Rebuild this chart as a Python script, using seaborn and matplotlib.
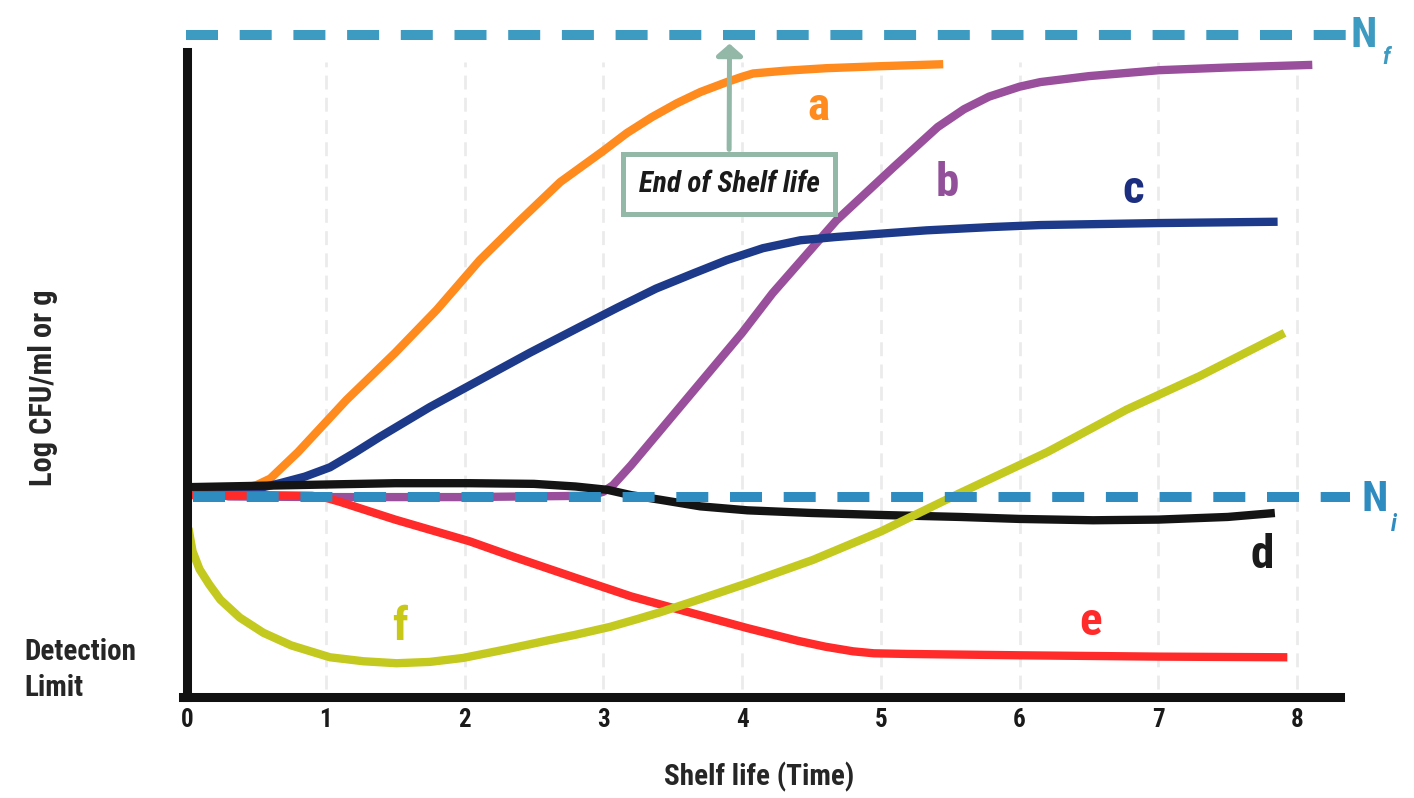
import numpy as np
import pandas as pd
import seaborn as sns
import matplotlib
matplotlib.use('agg')
import matplotlib.pyplot as plt
from matplotlib import font_manager

# values (x = shelf life time, y = log CFU, arbitrary units)
time_ticks = [0, 1, 2, 3, 4, 5, 6, 7, 8]
n_i = 3.02
n_f = 10.0

a_t = [0, 0.4, 0.5, 0.6, 0.8, 1.15, 1.5, 1.8, 2.11, 2.4, 2.69, 3.0, 3.17, 3.35, 3.53, 3.7, 3.89, 4.0, 4.08, 4.3, 4.61, 5.0, 5.45]
a_y = [3.12, 3.15, 3.2, 3.3, 3.7, 4.49, 5.2, 5.85, 6.6, 7.2, 7.78, 8.25, 8.52, 8.76, 8.97, 9.14, 9.29, 9.37, 9.42, 9.46, 9.5, 9.53, 9.56]

b_t = [0, 0.3, 1, 2, 2.9, 3.0, 3.07, 3.2, 3.5, 4.0, 4.22, 4.68, 5.09, 5.41, 5.6, 5.78, 6.0, 6.15, 6.5, 7.01, 7.5, 8.11]
b_y = [3.15, 3.03, 3.02, 3.02, 3.04, 3.1, 3.2, 3.5, 4.25, 5.5, 6.1, 7.2, 8.0, 8.61, 8.88, 9.07, 9.22, 9.29, 9.38, 9.47, 9.51, 9.55]

c_t = [0, 0.4, 0.55, 0.67, 0.85, 1.03, 1.2, 1.39, 1.75, 2.11, 2.47, 2.83, 3.1, 3.38, 3.65, 3.89, 4.15, 4.42, 4.68, 5.0, 5.33, 5.8, 6.15, 7.0, 7.86]
c_y = [3.12, 3.14, 3.17, 3.23, 3.33, 3.47, 3.68, 3.93, 4.38, 4.79, 5.2, 5.59, 5.88, 6.17, 6.4, 6.6, 6.78, 6.9, 6.95, 7.0, 7.05, 7.1, 7.13, 7.16, 7.18]

d_t = [0, 0.5, 1.0, 1.5, 2.04, 2.5, 2.8, 3.03, 3.2, 3.41, 3.7, 4.04, 4.5, 5.0, 5.57, 6.0, 6.53, 7.0, 7.5, 7.84]
d_y = [3.17, 3.19, 3.21, 3.23, 3.23, 3.22, 3.18, 3.13, 3.05, 2.98, 2.88, 2.82, 2.78, 2.75, 2.72, 2.69, 2.67, 2.68, 2.72, 2.78]

e_t = [0, 0.5, 0.9, 1.0, 1.1, 1.5, 2.04, 2.35, 2.8, 3.2, 3.53, 4.04, 4.4, 4.6, 4.8, 4.95, 5.2, 6.0, 7.0, 7.93]
e_y = [3.05, 3.05, 3.04, 3.01, 2.95, 2.68, 2.35, 2.12, 1.8, 1.52, 1.33, 1.04, 0.85, 0.76, 0.69, 0.66, 0.65, 0.63, 0.61, 0.6]

f_t = [0.01, 0.04, 0.09, 0.16, 0.24, 0.38, 0.55, 0.75, 1.03, 1.27, 1.51, 1.75, 1.99, 2.3, 2.59, 2.8, 3.05, 3.25, 3.41, 3.7, 4.04, 4.51, 5.0, 5.57, 6.2, 6.77, 7.3, 7.91]
f_y = [2.55, 2.2, 1.93, 1.7, 1.47, 1.2, 0.97, 0.78, 0.6, 0.54, 0.51, 0.53, 0.59, 0.72, 0.85, 0.94, 1.06, 1.18, 1.28, 1.48, 1.72, 2.07, 2.5, 3.08, 3.7, 4.34, 4.85, 5.5]

curve_names = ['a', 'b', 'c', 'd', 'e', 'f']
curve_colors = ['#ff8a1d', '#9a4f9c', '#1d3a8a', '#141414', '#ff2a2a', '#c4c91f']
label_colors = ['#ff8a1d', '#93509a', '#1c2e80', '#1a1a1a', '#ff2a2a', '#c8c818']

sns.set_style('white')
installed = {f.name for f in font_manager.fontManager.ttflist}
narrow = [n for n in ['Roboto Condensed', 'Liberation Sans Narrow', 'Open Sans Condensed', 'DejaVu Sans Condensed']
          if n in installed]
plt.rcParams['font.family'] = narrow + ['DejaVu Sans']
plt.rcParams['font.stretch'] = 'condensed'
plt.rcParams['font.weight'] = 'bold'

fig = plt.figure(figsize=(14.14, 7.98), dpi=100)
ax = fig.add_axes([0, 0, 1, 1])
ax.set_xlim(-1.348, 8.843)
ax.set_ylim(-1.526, 10.53)

# faint dashed grid
ax.vlines(time_ticks[1:], 0.12, 9.6, colors='#ebebeb', lw=2, linestyles=(0, (5, 3)), zorder=0)

curves = [(a_t, a_y), (b_t, b_y), (c_t, c_y), (d_t, d_y), (e_t, e_y), (f_t, f_y)]
for (t, y), col in zip(curves, curve_colors):
    sns.lineplot(x=t, y=y, color=col, lw=6, ax=ax, zorder=2, sort=False,
                 solid_capstyle='butt', solid_joinstyle='round')

# Nf and Ni reference levels
ax.hlines(n_f, -0.01, 8.35, colors='#3d9ac1', lw=7.2, linestyles=(0, (3.2, 2.17)), zorder=3)
ax.hlines(n_i, 0.04, 8.38, colors='#2f8cc0', lw=7.2, linestyles=(0, (3.2, 2.17)), zorder=3)
ax.text(8.48, n_f, 'N', color='#3d9ac1', fontsize=31, ha='center', va='center')
ax.text(8.64, 9.66, 'f', color='#3d9ac1', fontsize=17, style='italic', ha='center', va='center')
ax.text(8.56, 2.98, 'N', color='#2f8cc0', fontsize=31, ha='center', va='center')
ax.text(8.7, 2.6, 'i', color='#2f8cc0', fontsize=17, style='italic', ha='center', va='center')

# curve letters
label_pos = [(4.55, 8.91), (5.48, 7.76), (6.82, 7.66), (7.75, 2.15), (6.51, 1.13), (1.535, 1.06)]
for name, (x, y), col in zip(curve_names, label_pos, label_colors):
    ax.text(x, y, name, color=col, fontsize=34, ha='center', va='center')

ax.annotate('End of Shelf life', xy=(3.91, 9.87), xytext=(3.906, 7.75),
            fontsize=21, style='italic', color='#1a1a1a', ha='center', va='center',
            bbox=dict(boxstyle='square,pad=0.55', fc='white', ec='#93b8a8', lw=3.6),
            arrowprops=dict(arrowstyle='-|>,head_width=0.4,head_length=0.35',
                            mutation_scale=20, color='#93b8a8', lw=3.6, shrinkB=0),
            zorder=4)

ax.text(-1.17, 0.41, 'Detection\nLimit', ha='left', va='center', fontsize=21, linespacing=1.35)

# axes as thick black lines
for side in ['top', 'right']:
    ax.spines[side].set_visible(False)
ax.spines['left'].set_position(('data', 0))
ax.spines['bottom'].set_position(('data', 0))
ax.spines['left'].set_bounds(0, 9.74)
ax.spines['bottom'].set_bounds(-0.03, 8.31)
for side in ['left', 'bottom']:
    ax.spines[side].set_linewidth(6.5)
    ax.spines[side].set_color('#111111')
    ax.spines[side].set_zorder(4)

ax.set_xticks(time_ticks)
ax.set_yticks([])
ax.tick_params(axis='x', length=0, pad=8, labelsize=18, colors='#1a1a1a')
ax.set_xlabel('Shelf life (Time)', fontsize=21, fontweight='bold')
ax.xaxis.set_label_coords(0.537, 0.045)
ax.set_ylabel('Log CFU/ml or g', fontsize=22, fontweight='bold')
ax.yaxis.set_label_coords(0.041, 0.514)

fig.savefig('out.png', dpi=100)
